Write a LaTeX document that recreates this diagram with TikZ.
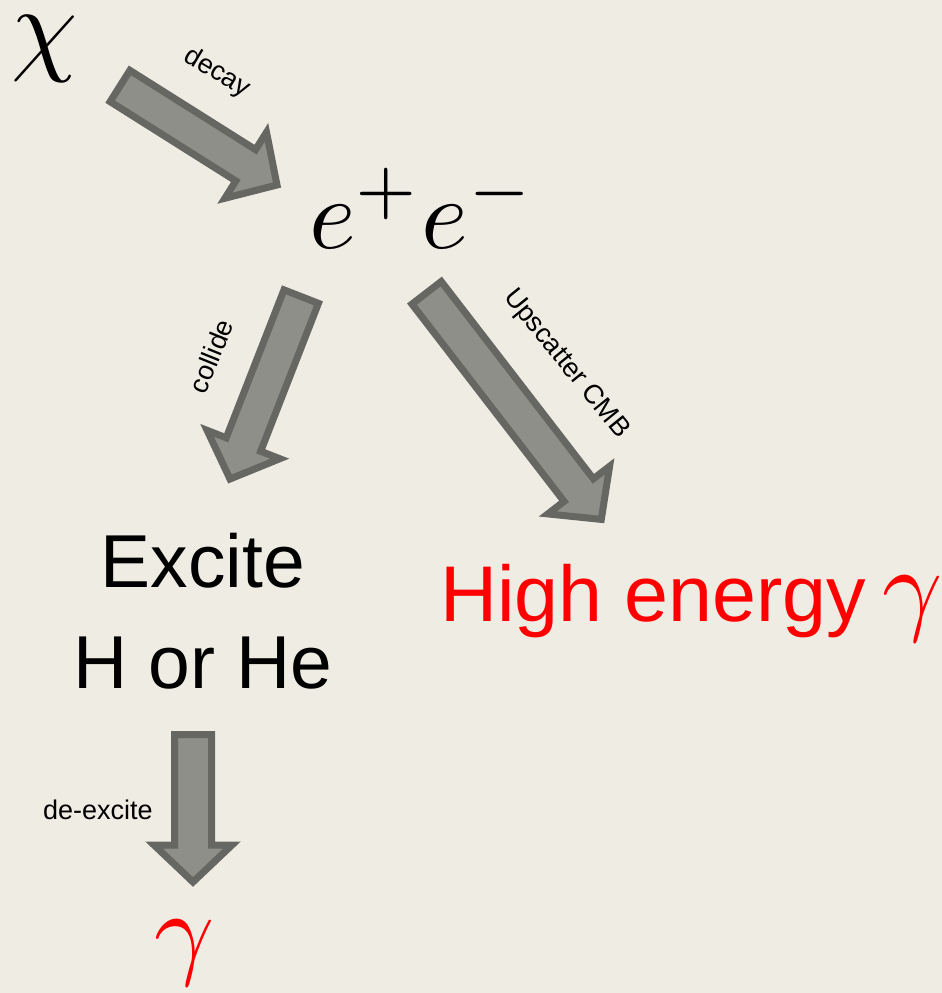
\documentclass[tikz,border=0pt]{standalone}
\usepackage{fontspec}
\newfontfamily\labelsans{Liberation Sans}
\usetikzlibrary{calc}
\definecolor{bgcol}{RGB}{239,236,228}
\definecolor{arrfill}{RGB}{142,143,136}
\definecolor{arrdraw}{RGB}{102,103,98}
\definecolor{hired}{RGB}{255,0,0}
\def\bsh{18.5pt}
\def\bhh{39pt}
\def\bhl{37pt}
\newcommand{\blockarrow}[3]{%
  \coordinate (#3n) at ($(#2)!\bhl!(#1)$);
  \draw[blockarrowstyle] ($(#1)!\bsh!90:(#2)$) -- ($(#3n)!\bsh!90:(#2)$) -- ($(#3n)!\bhh!90:(#2)$) -- (#2) -- ($(#3n)!\bhh!-90:(#2)$) -- ($(#3n)!\bsh!-90:(#2)$) -- ($(#1)!\bsh!-90:(#2)$) -- cycle;}
\tikzset{
  blockarrowstyle/.style={fill=arrfill, draw=arrdraw, line width=7pt, line join=miter},
  smalllabel/.style={inner sep=0pt, font=\labelsans\fontsize{27}{32}\selectfont},
  bigtext/.style={inner sep=0pt, font=\labelsans\fontsize{75}{90}\selectfont},
  mathbig/.style={inner sep=0pt}
}
\begin{document}
\begin{tikzpicture}[x=1pt,y=-1pt]
\useasboundingbox (0,0) rectangle (942,993);
\fill[bgcol] (0,0) rectangle (942,993);
% main nodes
\node[mathbig, scale=10.6] (chi) at (45,49) {$\chi$};
\node[mathbig, scale=10, anchor=base west] (ee) at (307,248) {$e^{+}e^{-}$};
\node[bigtext, anchor=base] (excite) at (203,587) {Excite};
\node[bigtext, anchor=base] (horhe) at (203,688) {H or He};
\node[inner sep=0pt, anchor=base west, text=hired, font=\labelsans\fontsize{79}{90}\selectfont] (high) at (440,621) {High energy};
\node[mathbig, scale=10.5, anchor=base, text=hired] (highg) at (913,621) {$\gamma$};
\node[mathbig, scale=10.5, anchor=base, text=hired] (gamma) at (185,965) {$\gamma$};
% arrow end points
\coordinate (a1s) at (120,86);   \coordinate (a1e) at (277,185);
\coordinate (a2s) at (301.2,296.6); \coordinate (a2e) at (230,479);
\coordinate (a3s) at (426.6,292.8); \coordinate (a3e) at (601.3,519.4);
\coordinate (a4s) at (193,734.5); \coordinate (a4e) at (193,882);
\blockarrow{a1s}{a1e}{a1}
\blockarrow{a2s}{a2e}{a2}
\blockarrow{a3s}{a3e}{a3}
\blockarrow{a4s}{a4e}{a4}
% labels
\node[smalllabel, rotate=-31] (ldecay) at (217,73) {decay};
\node[smalllabel, rotate=68] (lcollide) at (211,356) {collide};
\node[smalllabel, rotate=-51] (lup) at (566,364) {Upscatter CMB};
\node[smalllabel, anchor=base] (ldeex) at (98,819) {de-excite};
\end{tikzpicture}
\end{document}
